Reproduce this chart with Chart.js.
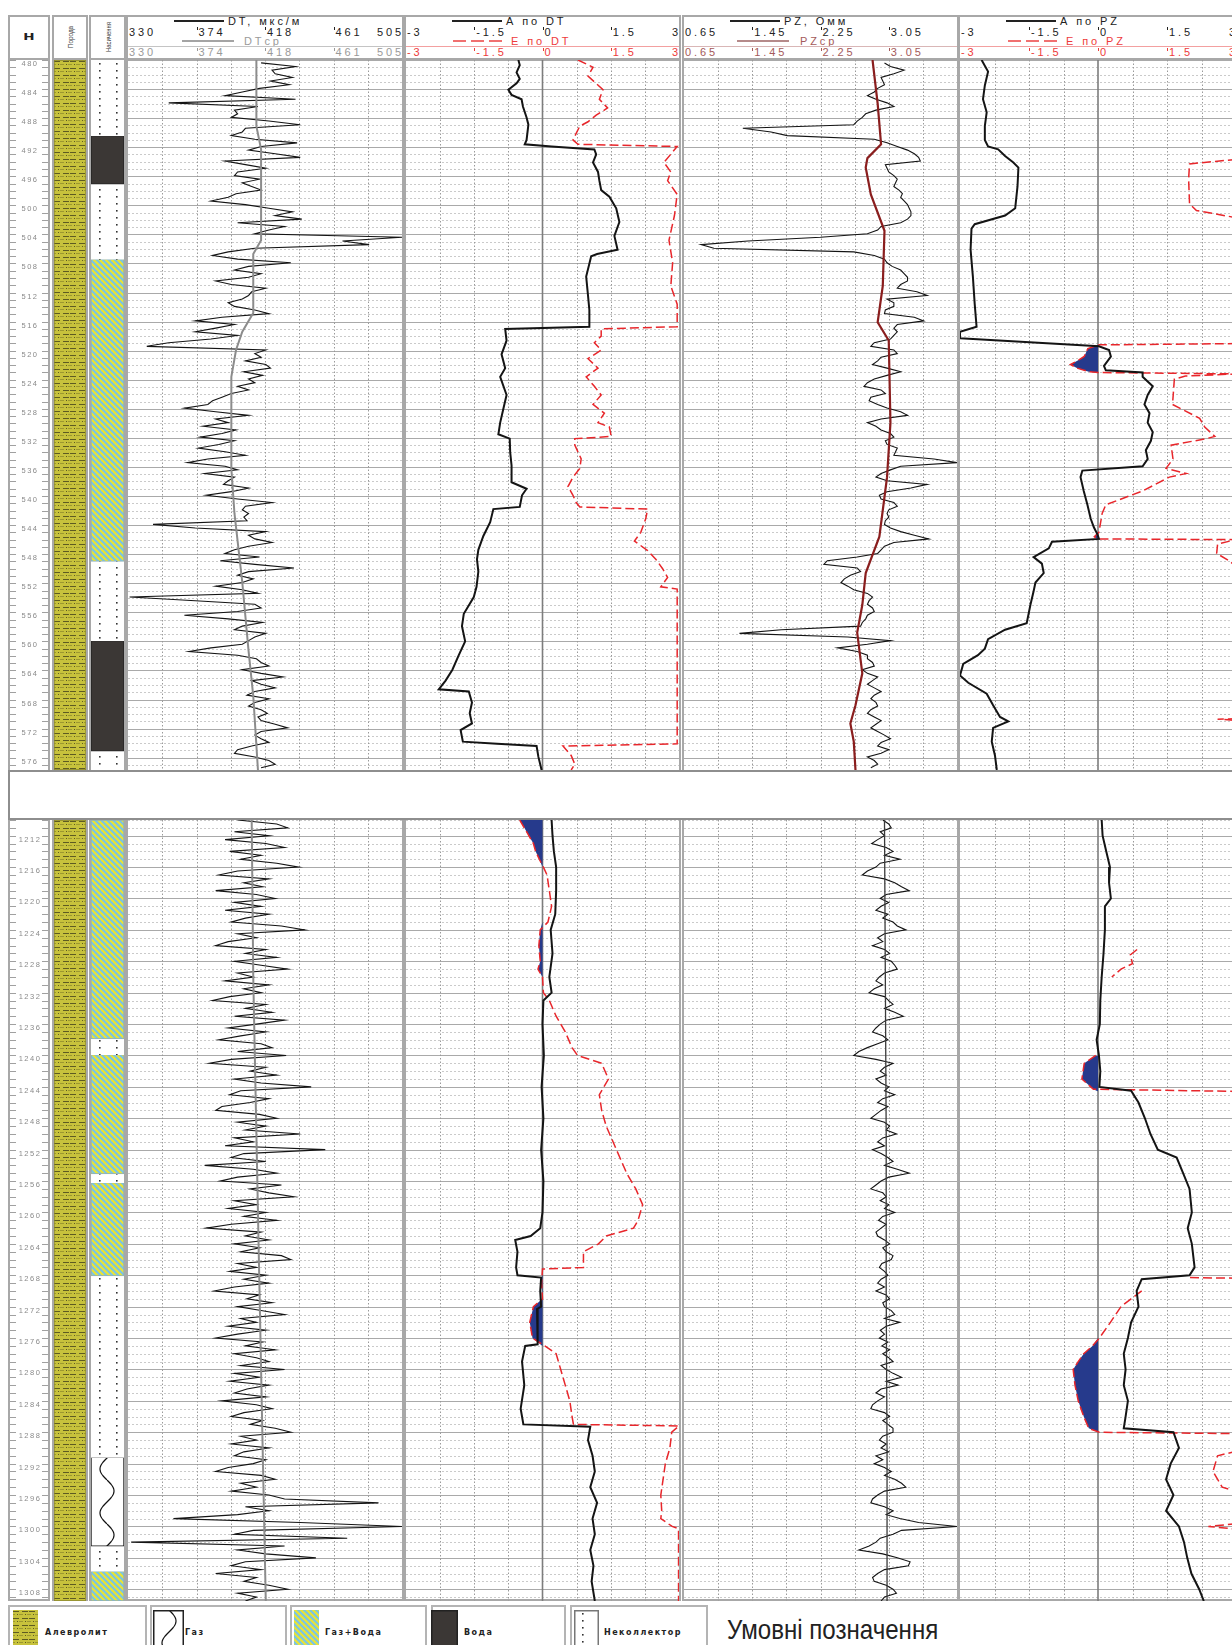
<!DOCTYPE html>
<html lang="uk">
<head>
<meta charset="utf-8">
<title>Каротаж</title>
<script src="https://cdn.jsdelivr.net/npm/chart.js@4.4.1/dist/chart.umd.min.js"></script>
<style>
  html, body { margin: 0; padding: 0; background: #fff; }
  body { position: relative; width: 1232px; height: 1645px; overflow: hidden; font-family: "Liberation Sans", Arial, sans-serif; }
  .col { position: absolute; border: 2px solid #a8a8a8; box-sizing: border-box; }
  .htxt { position: absolute; font-size: 11px; letter-spacing: 2.9px; white-space: nowrap; line-height: 11px; }
  .vtxt { position: absolute; font: 7.5px "Liberation Sans Narrow", "Liberation Sans", sans-serif; color: #444; white-space: nowrap; transform: translate(-50%, -50%) rotate(-90deg) scaleX(0.85); }
  canvas { position: absolute; }
  .leg { position: absolute; top: 1605px; height: 60px; border: 2px solid #b4b4b4; box-sizing: border-box; background: #fff; }
  .legtxt { position: absolute; font: bold 8px "DejaVu Sans", sans-serif; letter-spacing: 1.5px; white-space: nowrap; color: #222; }
</style>
</head>
<body>
<script>
// ---------------- data ----------------
const upperRange = [480, 577.7];
const lowerRange = [1210, 1309.5];
const sampleStep = 0.5;
const upperSampleStart = 480.4;
const lowerSampleStart = 1210;

const dtTicks = ['330', '374', '418', '461', '505'];
const aTicks = ['-3', '-1.5', '0', '1.5', '3'];
const pzTicks = ['0.65', '1.45', '2.25', '3.05'];

// DT, мкс/м (0.5 m samples)
const dtUpper = [
  415,437,422,424,435,421,433,414,403,392,
  437,356,413,398,400,396,420,440,405,403,
  396,411,438,415,407,424,440,392,405,418,
  400,398,414,403,409,415,399,394,383,405,
  420,435,424,441,400,430,420,411,505,467,
  484,411,394,384,400,434,407,398,415,407,
  386,396,418,409,407,403,394,398,411,420,
  390,373,398,386,373,400,383,356,342,418,
  411,415,405,418,421,404,416,407,411,400,
  407,396,390,384,381,366,386,407,386,394,
  378,399,390,376,398,388,375,392,405,381,
  368,392,400,379,398,394,391,407,396,380,
  400,422,405,403,407,404,406,346,373,418,
  407,411,422,407,398,392,414,389,411,436,
  407,400,410,403,386,403,413,331,373,411,
  415,400,366,394,416,403,398,418,411,407,
  403,383,369,400,412,415,420,403,415,429,
  409,415,424,411,406,420,411,407,415,419,
  413,415,424,432,415,411,415,420,409,400,
  398,411,420,424,415
];
const dtLower = [
  400,425,432,398,420,392,418,430,395,415,
  402,425,439,400,388,420,404,416,386,412,
  424,398,415,392,420,405,396,428,443,400,
  412,394,386,418,405,425,398,415,432,400,
  410,392,420,404,415,395,384,418,405,422,
  398,430,412,394,418,402,388,415,422,400,
  431,396,382,418,408,425,398,415,447,402,
  395,420,408,390,386,414,425,400,418,405,
  440,398,410,392,456,404,396,418,379,410,
  425,400,389,428,408,420,436,398,412,394,
  418,404,425,396,380,415,405,420,398,414,
  402,428,434,400,412,395,418,404,420,398,
  385,414,406,422,400,415,430,402,412,394,
  418,400,386,416,405,424,398,412,420,402,
  430,398,414,395,420,406,398,418,390,412,
  422,404,396,416,408,424,434,402,412,396,
  420,404,398,418,410,394,386,415,424,402,
  412,396,420,430,490,405,420,400,359,440,
  505,410,398,470,332,430,400,418,450,405,
  396,415,386,412,404,420,432,400,412,405
];
const dtAvgUpper = [[480,412],[489.1,412],[492.3,415],[504.8,415],[506.7,410],[514.8,410],[517.4,403],[519.9,399],[523.6,396],[536.2,396],[542.4,398],[551.9,403],[561.3,407],[567.5,410],[577.7,413]];
const dtAvgLower = [[1210,409],[1230,410],[1250,412],[1270,414],[1290,416],[1309.5,418]];

// A по DT / E по DT
const aDtUpper = [[480,-0.53],[480.7,-0.5],[481.7,-0.57],[482.6,-0.5],[483.2,-0.57],[484.1,-0.75],[484.8,-0.68],[485.4,-0.46],[486.4,-0.43],[487.9,-0.35],[488.9,-0.31],[491,-0.35],[491.6,-0.39],[491.9,0.2],[492.3,1.14],[493,1.18],[494.1,1.11],[495.4,1.22],[496.6,1.25],[497.9,1.29],[498.8,1.47],[500.4,1.62],[502.3,1.69],[504.2,1.58],[506.1,1.65],[506.7,1.2],[507,1.07],[509.8,0.96],[512.4,1.0],[514.4,1.03],[516.7,1.03],[517,-0.82],[518.6,-0.79],[520.5,-0.9],[522.4,-0.82],[523.6,-0.93],[526.1,-0.79],[528,-0.86],[529.9,-0.93],[531.5,-0.97],[532.1,-0.72],[534,-0.71],[535.8,-0.68],[538.1,-0.68],[539,-0.35],[539.9,-0.45],[541.5,-0.5],[541.8,-1.08],[543.6,-1.15],[545.5,-1.3],[547.4,-1.41],[548.7,-1.44],[550.4,-1.41],[552.5,-1.45],[553.9,-1.51],[556.2,-1.73],[557.9,-1.77],[560,-1.7],[561.9,-1.84],[563.9,-1.98],[565.4,-2.13],[566.6,-2.28],[566.9,-1.62],[568.4,-1.55],[569.9,-1.6],[571.3,-1.55],[572.2,-1.8],[573.8,-1.75],[574.1,-1.0],[574.4,-0.13],[575.9,-0.09],[577.7,-0.02]];
const eDtUpper = [[480,0.78],[481,1.11],[482.2,1.0],[484.1,1.33],[485.4,1.25],[486.6,1.43],[487.6,1.18],[488.5,1.0],[489.1,0.82],[490.1,0.74],[491,0.67],[491.6,0.78],[491.9,2.96],[494.1,2.67],[495.4,2.82],[496.6,2.75],[498.5,2.96],[501.4,2.9],[504.8,2.78],[507.9,2.86],[511.1,2.82],[513.6,2.96],[516.7,2.96],[517,1.29],[518,1.29],[518.9,1.14],[519.9,1.29],[521.1,1.0],[522.4,1.22],[523.6,0.96],[524.9,1.14],[526.1,1.29],[527.4,1.11],[528.6,1.36],[529.9,1.22],[530.5,1.47],[531.8,1.51],[532.1,0.71],[533,0.71],[534.9,0.85],[536.2,0.82],[537.4,0.67],[538.7,0.56],[539.9,0.67],[540.9,0.74],[541.5,0.82],[541.8,2.31],[543.1,2.27],[545,2.16],[546.2,2.02],[547.5,2.31],[548.7,2.49],[550,2.64],[551.2,2.75],[552.5,2.6],[552.8,2.96],[574.1,2.96],[574.4,0.45],[575.7,0.63],[576.9,0.71],[577.7,0.63]];
const aDtLower = [[1210,0.2],[1212,0.22],[1214,0.25],[1216,0.3],[1219,0.3],[1222,0.28],[1224,0.18],[1227,0.22],[1230,0.15],[1232,0.2],[1233,0.02],[1236,0.0],[1240,0.03],[1244,-0.02],[1248,0.02],[1252,-0.03],[1256,0.02],[1260,0.0],[1262,-0.05],[1263,-0.26],[1263.5,-0.6],[1265,-0.55],[1267,-0.58],[1268,-0.55],[1268.3,-0.03],[1270,-0.05],[1272,-0.03],[1272.3,-0.12],[1274,-0.1],[1276,-0.12],[1276.8,-0.1],[1277,-0.38],[1279,-0.45],[1282,-0.4],[1285,-0.48],[1287,-0.42],[1287.3,1.05],[1289,1.0],[1291,1.1],[1293,1.15],[1295,1.05],[1297,1.2],[1299,1.1],[1301,1.15],[1303,1.05],[1305,1.12],[1307,1.08],[1309.5,1.15]];
const eDtLower = [[1210,-0.5],[1211,-0.4],[1212,-0.3],[1213,-0.2],[1214,-0.15],[1215,-0.07],[1216,0.02],[1217,0.1],[1219,0.15],[1221,0.2],[1223,0.12],[1224,-0.05],[1226,-0.08],[1228,-0.05],[1229,-0.1],[1230,0.0],[1232,0.02],[1233,0.15],[1235,0.3],[1237,0.5],[1239,0.65],[1240,0.77],[1241,1.3],[1243,1.45],[1245,1.25],[1247,1.3],[1249,1.4],[1251,1.55],[1253,1.7],[1255,1.85],[1257,2.05],[1259,2.2],[1261,2.1],[1262,2.0],[1263,1.4],[1264,1.23],[1265,0.9],[1267,0.9],[1267.2,0.0],[1269,-0.02],[1271,0.0],[1272,-0.2],[1274,-0.28],[1276,-0.22],[1277,0.05],[1278,0.3],[1280,0.4],[1282,0.5],[1284,0.6],[1286,0.65],[1287,0.68],[1287.2,3.0],[1288,2.84],[1290,2.8],[1292,2.7],[1294,2.65],[1296,2.6],[1298,2.62],[1299,2.6],[1300,2.85],[1300.3,2.99],[1309.5,2.99]];

// PZ, Омм (0.5 m samples)
const pzUpper = [
  3.0,3.07,3.23,3.11,2.96,2.98,3.0,2.92,2.88,2.8,
  2.9,3.03,3.11,2.9,2.78,2.74,2.68,2.64,1.34,1.67,
  1.86,2.88,3.03,3.15,3.27,3.35,3.4,3.42,3.01,3.03,
  3.05,3.11,3.15,3.13,3.11,3.17,3.21,3.19,3.23,3.27,
  3.29,3.31,3.31,3.27,3.19,2.96,2.92,2.8,2.25,1.4,
  0.85,1.0,2.64,2.88,3.0,3.03,3.09,3.19,3.23,3.27,
  3.27,3.19,3.15,3.38,3.5,3.03,3.11,3.11,3.01,3.0,
  3.35,3.46,3.15,3.11,3.15,3.11,3.07,2.88,2.84,3.11,
  3.15,2.96,2.92,2.86,3.03,3.19,3.03,2.88,2.8,2.76,
  2.96,3.01,2.84,2.82,2.92,3.03,3.19,3.27,2.96,2.8,
  2.9,2.96,3.07,3.11,3.01,3.03,3.15,3.13,3.11,3.58,
  3.85,3.19,3.07,2.96,2.9,3.03,3.5,3.31,3.03,2.94,
  2.96,3.11,3.15,3.05,3.03,3.05,3.01,3.0,3.07,3.19,
  3.35,3.52,3.11,3.0,2.96,2.92,2.68,2.33,2.29,2.68,
  2.72,2.6,2.53,2.49,2.57,2.64,2.8,2.86,2.82,2.8,
  2.86,2.88,2.8,2.78,2.74,2.72,1.79,1.3,2.57,3.07,
  2.8,2.45,2.68,2.8,2.8,2.86,2.88,2.74,2.8,2.92,
  2.86,2.8,2.88,2.96,2.88,2.84,2.9,2.92,2.84,2.8,
  2.88,2.96,2.9,2.84,2.92,3.0,3.07,2.96,2.92,3.05,
  2.96,2.8,2.88,2.92,2.84
];
const pzLower = [
  2.98,3.05,3.08,2.95,3.0,2.92,2.85,3.02,3.1,3.0,
  3.18,2.95,2.9,2.8,2.74,3.0,3.12,3.2,3.29,3.02,
  2.95,3.05,2.96,2.9,3.04,2.98,3.1,3.15,3.25,3.0,
  2.92,2.98,2.86,3.0,3.06,2.96,3.08,3.12,3.15,3.0,
  2.94,2.9,2.98,2.88,2.82,3.0,3.05,3.1,3.0,3.12,
  3.22,3.02,2.95,2.9,2.86,2.98,3.04,2.92,2.8,2.7,
  2.64,2.9,3.1,3.0,2.95,3.02,2.9,2.96,3.05,3.0,
  3.12,2.98,2.92,3.04,2.96,2.9,2.84,3.0,3.06,3.02,
  3.14,2.98,2.92,3.0,2.86,2.96,3.04,3.1,3.0,3.15,
  3.29,3.05,2.96,2.9,2.84,2.98,3.02,2.95,3.05,3.0,
  3.12,2.98,2.93,3.02,2.96,2.9,2.92,3.0,3.06,2.98,
  3.02,3.1,3.08,2.97,2.94,3.0,3.04,2.96,2.92,3.0,
  2.9,3.02,3.06,2.98,3.0,3.08,3.12,3.0,3.18,3.02,
  2.95,3.0,2.94,3.04,2.97,3.06,2.98,3.05,3.1,2.96,
  3.02,3.1,3.2,3.02,3.16,2.96,2.9,3.0,2.92,2.86,
  2.84,3.0,3.06,2.98,3.04,3.1,3.1,2.98,2.94,3.02,
  2.96,3.05,2.9,2.98,2.88,3.0,3.08,3.0,3.12,3.2,
  3.25,3.0,2.92,2.86,2.84,3.0,3.1,3.02,3.18,3.4,
  3.85,3.2,3.1,2.95,2.9,2.82,2.7,2.98,3.15,3.3,
  3.28,3.0,2.92,2.86,2.88,3.02,3.1,3.14,3.0,2.96
];
const pzAvgUpper = [[480,2.86],[486,2.92],[491.6,2.96],[493.5,2.8],[494.8,2.78],[498.5,2.84],[503.5,3.0],[511.1,2.98],[516.1,2.92],[518.6,3.05],[529.9,3.07],[537.4,3.03],[545.6,2.94],[550.6,2.78],[555,2.74],[558.8,2.68],[564.4,2.74],[568.8,2.66],[571.3,2.6],[573.8,2.64],[577.7,2.66]];
const pzAvgLower = [[1210,3.0],[1230,3.01],[1250,3.02],[1270,3.02],[1290,3.03],[1309.5,3.03]];

// A по PZ / E по PZ (null = no value)
const aPzUpper = [[480,-2.53],[481.6,-2.39],[483.5,-2.46],[485.4,-2.5],[487.2,-2.42],[489.1,-2.46],[491,-2.46],[491.9,-2.39],[492.3,-2.17],[493.2,-2.02],[494.1,-1.84],[494.8,-1.73],[497.4,-1.75],[500.4,-1.8],[501.4,-2.02],[502.6,-2.68],[503.2,-2.75],[506.1,-2.77],[509.8,-2.72],[513.6,-2.68],[516.7,-2.64],[517.4,-3.0],[518.3,-3.0],[519.4,0.02],[519.9,0.24],[520.8,0.28],[522.1,0.13],[522.7,0.17],[523,0.97],[523.6,0.97],[524.9,1.19],[526.1,1.08],[527.4,1.01],[528.6,1.12],[529.9,1.08],[531.2,1.19],[532.4,1.15],[533.7,1.04],[534.9,1.08],[535.9,0.97],[536.5,-0.34],[537.4,-0.38],[539.3,-0.31],[541.2,-0.23],[543.1,-0.16],[544.3,-0.09],[545.3,-0.01],[545.9,0.02],[546.3,-1.0],[547.2,-1.07],[548.4,-1.4],[549.3,-1.22],[550.6,-1.18],[551.9,-1.36],[553.1,-1.4],[555,-1.47],[557.5,-1.55],[558.4,-2.02],[559.7,-2.39],[561,-2.46],[561.9,-2.61],[563.1,-2.93],[564.7,-3.0],[565.7,-2.82],[567.2,-2.42],[568.8,-2.28],[570.4,-2.13],[571,-1.95],[571.9,-2.28],[573.8,-2.31],[575.7,-2.24],[577.7,-2.2]];
const ePzUpper = [[493.5,3.3],[494.3,1.99],[496.4,1.97],[499.8,1.99],[500.7,2.14],[501.7,3.0],[501.8,3.3],null,
  [519,3.3],[519.2,0.03],[519.7,-0.22],[520.8,-0.3],[521.4,-0.45],[521.9,-0.6],[522.4,-0.45],[522.9,-0.2],[523,0.0],[523.2,3.0],[523.5,1.9],[523.9,1.66],[527.4,1.62],[529.3,2.21],[530.5,2.32],[531.8,2.54],[532.1,2.36],[533,1.59],[534.9,1.63],[536.2,1.48],[536.9,1.92],[537.4,1.55],[539.3,0.97],[541.2,0.17],[542.4,0.09],[545,0.02],[545.6,-0.08],[545.9,-0.02],[546,3.0],[546.6,2.6],[547.9,2.58],[548.9,2.85],[549.7,3.0],[549.8,3.3],null,
  [570.6,3.3],[570.7,2.6],[571,3.3]];
const aPzLower = [[1210,0.08],[1212,0.1],[1214,0.18],[1216,0.26],[1218,0.24],[1220,0.28],[1221,0.15],[1224,0.15],[1227,0.12],[1230,0.08],[1233,0.05],[1236,0.04],[1238,-0.03],[1240,0.02],[1242,0.05],[1244,0.03],[1244.5,0.72],[1246,0.88],[1248,1.02],[1250,1.14],[1252,1.3],[1253,1.71],[1255,1.85],[1257,1.99],[1260,2.04],[1262,1.95],[1264,2.04],[1267,2.1],[1268,1.99],[1268.5,0.95],[1270,0.84],[1272,0.88],[1274,0.72],[1276,0.65],[1278,0.56],[1280,0.6],[1282,0.56],[1284,0.65],[1286,0.6],[1287.5,0.56],[1288,1.64],[1290,1.76],[1292,1.58],[1294,1.48],[1296,1.64],[1298,1.48],[1300,1.76],[1302,1.87],[1304,1.94],[1306,2.03],[1308,2.2],[1309.5,2.3]];
const ePzLower = [[1226.5,0.85],[1227.2,0.7],[1228.3,0.75],[1229,0.5],[1230,0.3],null,
  [1240,-0.05],[1241,-0.3],[1243,-0.35],[1244.3,-0.1],[1244.6,3.3],null,
  [1268.3,2.0],[1268.4,3.3],null,
  [1270,0.95],[1271,0.72],[1272,0.5],[1274,0.27],[1276,0.03],[1277,-0.12],[1278,-0.31],[1279,-0.43],[1280,-0.54],[1282,-0.5],[1284,-0.43],[1286,-0.31],[1287.5,-0.2],[1288,0.03],[1288.2,3.3],null,
  [1290,3.3],[1291,2.6],[1293,2.5],[1295,2.7],[1296,3.3],null,
  [1299.5,3.3],[1300,2.4],[1300.5,3.3]];

// Порода / Насичення intervals: [top, bottom, kind]
const lithUpper = [[480, 577.7, 'al']];
const lithLower = [[1210, 1309.5, 'al']];
const satUpper = [[480,490.4,'nc'],[490.4,497.1,'w'],[497.1,507.4,'nc'],[507.4,549,'gw'],[549,559.9,'nc'],[559.9,575.1,'w'],[575.1,577.7,'nc']];
const satLower = [[1210,1237.9,'gw'],[1237.9,1239.9,'nc'],[1239.9,1255.1,'gw'],[1255.1,1256.2,'nc'],[1256.2,1268.1,'gw'],[1268.1,1291.2,'nc'],[1291.2,1302.5,'g'],[1302.5,1305.7,'nc'],[1305.7,1309.5,'gw']];

const legendKinds = ['al', 'g', 'gw', 'w', 'nc'];
const legendLabels = ['Алевролит', 'Газ', 'Газ+Вода', 'Вода', 'Неколлектор'];

// ---------------- layout ----------------
const COL = {
  depth: [8, 50], lith: [52, 88], sat: [89, 126],
  dt: [126, 404], adt: [404, 681], pz: [682, 959], apz: [958, 1238],
};
const PANELS = [
  { top: 60, bottom: 770, range: upperRange },
  { top: 820, bottom: 1601, range: lowerRange },
];

function addDiv(cls, css, txt) {
  const d = document.createElement('div');
  if (cls) d.className = cls;
  Object.assign(d.style, css);
  if (txt != null) d.textContent = txt;
  document.body.appendChild(d);
  return d;
}
function makeCanvas(left, top, w, h) {
  const c = document.createElement('canvas');
  c.width = w; c.height = h;
  Object.assign(c.style, { left: left + 'px', top: top + 'px', width: w + 'px', height: h + 'px' });
  document.body.appendChild(c);
  return c;
}

// column frames
for (const k in COL) {
  const [l, r] = COL[k];
  addDiv('col', { left: l + 'px', top: '15px', width: (r - l) + 'px', height: (1601 - 15) + 'px' });
  addDiv(null, { position: 'absolute', left: (l + 2) + 'px', top: '58px', width: (r - l - 4) + 'px', height: '2px', background: '#a8a8a8' });
}

// ---------------- patterns ----------------
function tile(w, h, draw) {
  const c = document.createElement('canvas');
  c.width = w; c.height = h;
  draw(c.getContext('2d'), w, h);
  return c;
}
const tiles = {
  al: tile(16, 7, (g) => {
    g.fillStyle = '#c7c23c'; g.fillRect(0, 0, 16, 7);
    g.fillStyle = '#5d5b22';
    g.fillRect(0, 1, 6, 1); g.fillRect(9, 1, 6, 1);
    g.fillRect(4, 4, 1, 1); g.fillRect(12, 4, 1, 1);
    g.fillStyle = '#9c982f';
    g.fillRect(6, 4, 4, 1); g.fillRect(14, 4, 2, 1); g.fillRect(0, 4, 2, 1);
  }),
  gw: tile(6, 6, (g) => {
    for (let y = 0; y < 6; y++) for (let x = 0; x < 6; x++) {
      g.fillStyle = ((x - y + 12) % 6) < 3 ? '#e4e23e' : '#80c6da';
      g.fillRect(x, y, 1, 1);
    }
  }),
  nc: tile(17, 7, (g) => {
    g.fillStyle = '#fff'; g.fillRect(0, 0, 17, 7);
    g.fillStyle = '#333'; g.fillRect(8, 3, 1.6, 1.6);
  }),
  w: tile(4, 4, (g) => { g.fillStyle = '#3b3735'; g.fillRect(0, 0, 4, 4); }),
  g: tile(33, 44, (g) => {
    g.fillStyle = '#fff'; g.fillRect(0, 0, 33, 44);
    g.strokeStyle = '#111'; g.lineWidth = 1.2; g.beginPath();
    for (let y = 0; y <= 44; y++) {
      const x = 16 + 7 * Math.sin(2 * Math.PI * y / 44);
      if (y === 0) g.moveTo(x, y); else g.lineTo(x, y);
    }
    g.stroke();
  }),
};
const patCtx = document.createElement('canvas').getContext('2d');
const patterns = {};
for (const k in tiles) patterns[k] = patCtx.createPattern(tiles[k], 'repeat');
const kindBorder = { al: '#8a8630', gw: '#8fb0b8', nc: 'rgba(0,0,0,0)', w: '#222', g: '#111' };

// ---------------- plugins ----------------
const gridPlugin = {
  id: 'logGrid',
  beforeDatasetsDraw(chart, args, opts) {
    const { ctx, chartArea: a, scales: { x, y } } = chart;
    ctx.save();
    ctx.lineWidth = 1;
    for (let d = Math.ceil(y.min); d <= y.max; d++) {
      const py = Math.round(y.getPixelForValue(d)) + 0.5;
      const major = d % 4 === 0;
      ctx.setLineDash(major ? [] : [2, 2]);
      ctx.strokeStyle = major ? '#a9a9a9' : '#cacaca';
      ctx.beginPath(); ctx.moveTo(a.left, py); ctx.lineTo(a.right, py); ctx.stroke();
    }
    ctx.setLineDash([1.5, 2]);
    ctx.strokeStyle = '#9a9a9a';
    for (let k = 1; k < 8; k++) {
      if (opts.zero && k === 4) continue;
      const v = x.min + (x.max - x.min) * k / 8;
      const px = Math.round(x.getPixelForValue(v)) + 0.5;
      ctx.beginPath(); ctx.moveTo(px, a.top); ctx.lineTo(px, a.bottom); ctx.stroke();
    }
    if (opts.zero) {
      ctx.setLineDash([]); ctx.strokeStyle = '#7d7d7d'; ctx.lineWidth = 1.6;
      const px = x.getPixelForValue(0);
      ctx.beginPath(); ctx.moveTo(px, a.top); ctx.lineTo(px, a.bottom); ctx.stroke();
    }
    ctx.restore();
  }
};
const depthPlugin = {
  id: 'depthScale',
  afterDraw(chart) {
    const { ctx, chartArea: a, scales: { y } } = chart;
    ctx.save();
    ctx.strokeStyle = '#a0a0a0'; ctx.lineWidth = 1;
    ctx.fillStyle = '#8a8a8a';
    ctx.font = '7.5px "Liberation Sans"';
    if ('letterSpacing' in ctx) ctx.letterSpacing = '1.5px';
    ctx.textAlign = 'center'; ctx.textBaseline = 'middle';
    for (let d = Math.ceil(y.min); d <= y.max; d++) {
      const py = Math.round(y.getPixelForValue(d)) + 0.5;
      ctx.beginPath();
      ctx.moveTo(a.left, py); ctx.lineTo(a.left + 6, py);
      ctx.moveTo(a.right - 6, py); ctx.lineTo(a.right, py);
      ctx.stroke();
      if (d % 4 === 0) ctx.fillText(String(d), (a.left + a.right) / 2 + 1, py + 3);
    }
    ctx.restore();
  }
};

// ---------------- helpers ----------------
function sampled(start, vals) { return vals.map((v, i) => ({ x: v, y: start + i * sampleStep })); }
function pairs(arr) {
  let last = 0;
  return arr.map((p) => {
    if (p === null) return { x: null, y: last };
    last = p[0];
    return { x: p[1], y: p[0] };
  });
}
function belowZero(arr) {
  return pairs(arr).map((p) => ({ x: p.x === null ? null : Math.min(p.x, 0), y: p.y }));
}
function curve(data, color, width, dash) {
  return { data, borderColor: color, borderWidth: width, borderDash: dash || [], pointRadius: 0, fill: false, spanGaps: false, tension: 0 };
}
function blueFill(arr) {
  return { data: belowZero(arr), borderWidth: 0, borderColor: 'rgba(0,0,0,0)', backgroundColor: '#263a8c', fill: { value: 0 }, pointRadius: 0, spanGaps: false, tension: 0 };
}
function baseOptions(xmin, xmax, range, extra) {
  return Object.assign({
    responsive: false, animation: false, devicePixelRatio: 1, events: [],
    layout: { padding: 0 },
    plugins: { legend: { display: false }, tooltip: { enabled: false } },
    scales: {
      x: { type: 'linear', min: xmin, max: xmax, display: false },
      y: { type: 'linear', min: range[0], max: range[1], reverse: true, display: false },
    },
  }, extra || {});
}
function trackChart(key, panel, xmin, xmax, datasets, zero) {
  const [l, r] = COL[key];
  const cv = makeCanvas(l + 2, panel.top, r - l - 4, panel.bottom - panel.top);
  const opts = baseOptions(xmin, xmax, panel.range, { indexAxis: 'y' });
  opts.plugins.logGrid = { zero: !!zero };
  return new Chart(cv, { type: 'line', data: { datasets }, options: opts, plugins: [gridPlugin] });
}
function columnChart(key, panel, intervals) {
  const [l, r] = COL[key];
  const cv = makeCanvas(l + 2, panel.top, r - l - 4, panel.bottom - panel.top);
  const datasets = intervals.map(([a, b, kind]) => ({
    data: [[a, b]], backgroundColor: patterns[kind], borderColor: kindBorder[kind],
    borderWidth: kind === 'nc' ? 0 : 1, borderSkipped: false, grouped: false,
    barPercentage: 1, categoryPercentage: 1,
  }));
  const opts = baseOptions(0, 1, panel.range);
  opts.scales.x = { type: 'category', display: false };
  return new Chart(cv, { type: 'bar', data: { labels: [''], datasets }, options: opts });
}
function depthChart(panel) {
  const [l, r] = COL.depth;
  const cv = makeCanvas(l + 2, panel.top, r - l - 4, panel.bottom - panel.top);
  return new Chart(cv, { type: 'line', data: { datasets: [] }, options: baseOptions(0, 1, panel.range), plugins: [depthPlugin] });
}

// ---------------- charts ----------------
const C_BLACK = '#141414', C_RED = '#e8262b', C_AVG = '#8c8c8c', C_PZAVG = '#8a1e1e';
const curveSets = [
  {
    dt: [curve(pairs(dtAvgUpper), C_AVG, 2), curve(sampled(upperSampleStart, dtUpper), C_BLACK, 1.1)],
    adt: [curve(pairs(aDtUpper), C_BLACK, 2), curve(pairs(eDtUpper), C_RED, 1.5, [9, 4]), blueFill(eDtUpper)],
    pz: [curve(pairs(pzAvgUpper), C_PZAVG, 2.2), curve(sampled(upperSampleStart, pzUpper), C_BLACK, 1.1)],
    apz: [curve(pairs(aPzUpper), C_BLACK, 2), curve(pairs(ePzUpper), C_RED, 1.5, [9, 4]), blueFill(ePzUpper)],
    lith: lithUpper, sat: satUpper,
  },
  {
    dt: [curve(pairs(dtAvgLower), C_AVG, 2), curve(sampled(lowerSampleStart, dtLower), C_BLACK, 1.1)],
    adt: [curve(pairs(aDtLower), C_BLACK, 2), curve(pairs(eDtLower), C_RED, 1.5, [9, 4]), blueFill(eDtLower)],
    pz: [curve(pairs(pzAvgLower), '#3a3a3a', 1.3), curve(sampled(lowerSampleStart, pzLower), C_BLACK, 1.1)],
    apz: [curve(pairs(aPzLower), C_BLACK, 2), curve(pairs(ePzLower), C_RED, 1.5, [9, 4]), blueFill(ePzLower)],
    lith: lithLower, sat: satLower,
  },
];
const charts = [];
PANELS.forEach((panel, i) => {
  const s = curveSets[i];
  depthChart(panel);
  columnChart('lith', panel, s.lith);
  columnChart('sat', panel, s.sat);
  charts.push({
    dt: trackChart('dt', panel, 330, 505, s.dt),
    adt: trackChart('adt', panel, -3, 3, s.adt, true),
    pz: trackChart('pz', panel, 0.65, 3.85, s.pz),
    apz: trackChart('apz', panel, -3, 3, s.apz, true),
  });
});

// gap between intervals
addDiv(null, { position: 'absolute', left: '8px', top: '770px', width: '1240px', height: '50px', background: '#fff', border: '2px solid #8e8e8e', boxSizing: 'border-box' });

// ---------------- headers ----------------
addDiv(null, { position: 'absolute', left: '29px', top: '37px', transform: 'translate(-50%,-50%) scaleX(1.5)', font: 'bold 9px "DejaVu Sans", sans-serif', color: '#222' }, 'Н');
addDiv('vtxt', { left: '70px', top: '37px' }, 'Порода');
addDiv('vtxt', { left: '107.5px', top: '37px', fontSize: '7px' }, 'Насичення');

function sample(x, y, w, color, dashed) {
  const css = { position: 'absolute', left: x + 'px', top: (y - 1) + 'px', width: w + 'px', height: '2px' };
  css.background = dashed ? `repeating-linear-gradient(to right, ${color} 0 13px, transparent 13px 18px)` : color;
  addDiv(null, css);
}
function tickRow(chart, left, labels, top, color) {
  const sx = chart.scales.x;
  const span = sx.max - sx.min;
  labels.forEach((lab, k) => {
    const x = left + sx.getPixelForValue(sx.min + span * k / 4);
    if (k === 0) {
      addDiv('htxt', { left: (x + 1) + 'px', top: top + 'px', color }, lab);
    } else if (k === 4) {
      addDiv('htxt', { left: (x + 2) + 'px', top: top + 'px', color, transform: 'translateX(-100%)' }, lab);
    } else {
      addDiv(null, { position: 'absolute', left: x + 'px', top: (top + 0.5) + 'px', width: '1px', height: '3px', background: color });
      addDiv('htxt', { left: (x + 2) + 'px', top: top + 'px', color }, lab);
    }
  });
}
const headerSpecs = {
  dt: { t1: 'DT, мкс/м', t2: 'DTср', c2: '#9a9a9a', dash2: false, line2: '#a4a4a4', off2: 54, txt2: 116, sep: '#c4c4c4', ticks: dtTicks },
  adt: { t1: 'А по DT', t2: 'Е по DT', c2: '#ee3b3b', dash2: true, line2: '#f07070', off2: 47, txt2: 105, sep: '#f3a0a0', ticks: aTicks },
  pz: { t1: 'PZ, Омм', t2: 'PZср', c2: '#a45a5a', dash2: false, line2: '#b58a8a', off2: 53, txt2: 116, sep: '#d9b6b6', ticks: pzTicks },
  apz: { t1: 'А по PZ', t2: 'Е по PZ', c2: '#ee3b3b', dash2: true, line2: '#f07070', off2: 48, txt2: 106, sep: '#f3a0a0', ticks: aTicks },
};
for (const key in headerSpecs) {
  const h = headerSpecs[key];
  const [l, r] = COL[key];
  const left = l + 2;
  const chart = charts[0][key];
  sample(left + 46, 21, 50, '#222', false);
  addDiv('htxt', { left: (left + 100) + 'px', top: '15.5px', color: '#222' }, h.t1);
  tickRow(chart, left, h.ticks, 26.5, '#222');
  sample(left + h.off2, 41, 52, h.line2, h.dash2);
  addDiv('htxt', { left: (left + h.txt2) + 'px', top: '35.5px', color: h.c2 }, h.t2);
  addDiv(null, { position: 'absolute', left: left + 'px', top: '46px', width: (r - l - 4) + 'px', height: '1px', background: h.sep });
  tickRow(chart, left, h.ticks, 47, h.c2);
}

// ---------------- legend ----------------
const legBoxes = [[8, 147], [150, 287], [290, 427], [431, 566], [570, 708]];
const legSwatch = [[13, 38], [153, 184], [294, 319], [431, 458], [574, 599]];
const legText = [45, 185, 325, 464, 604];
legendKinds.forEach((kind, i) => {
  const [l, r] = legBoxes[i];
  addDiv('leg', { left: l + 'px', width: (r - l) + 'px' });
  const [sl, sr] = legSwatch[i];
  const cv = makeCanvas(sl, 1610, sr - sl, 40);
  const g = cv.getContext('2d');
  g.fillStyle = patterns[kind]; g.fillRect(0, 0, sr - sl, 40);
  if (kind !== 'al' && kind !== 'gw') {
    g.strokeStyle = kind === 'nc' ? '#777' : '#222'; g.lineWidth = 1.5;
    g.strokeRect(0.75, 0.75, sr - sl - 1.5, 40);
  }
  addDiv('legtxt', { left: legText[i] + 'px', top: '1628px' }, legendLabels[i]);
});
addDiv(null, { position: 'absolute', left: '727px', top: '1614px', font: '28px "Liberation Sans Narrow", "Liberation Sans", sans-serif', color: '#222', whiteSpace: 'nowrap', lineHeight: '32px', transform: 'scaleX(0.86)', transformOrigin: '0 50%' }, 'Умовні позначення');
</script>
</body>
</html>
